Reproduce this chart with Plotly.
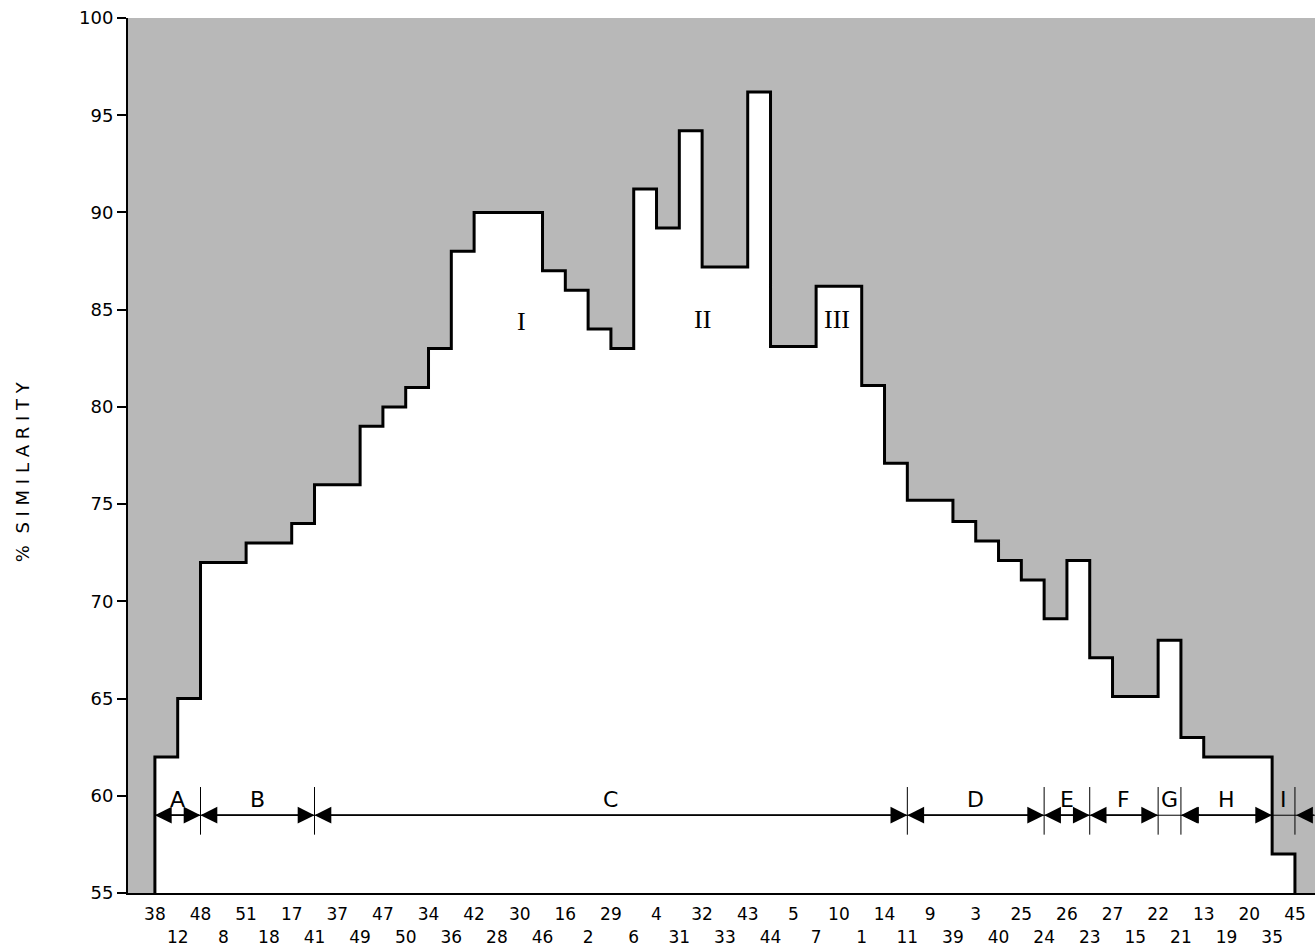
import plotly.graph_objects as go

# Sample order along the x axis (51 samples)
samples = [38, 12, 48, 8, 51, 18, 17, 41, 37, 49, 47, 50, 34, 36, 42, 28, 30, 46, 16, 2,
           29, 6, 4, 31, 32, 33, 43, 44, 5, 7, 10, 1, 14, 11, 9, 39, 3, 40, 25, 24,
           26, 23, 27, 15, 22, 21, 13, 19, 20, 35, 45]

# % similarity between adjacent samples (50 values)
similarity = [62, 65, 72, 72, 73, 73, 74, 76, 76, 79, 80, 81, 83, 88, 90, 90, 90, 87, 86, 84,
              83, 91.2, 89.2, 94.2, 87.2, 87.2, 96.2, 83.1, 83.1, 86.2, 86.2, 81.1, 77.1, 75.2, 75.2, 74.1,
              73.1, 72.1, 71.1, 69.1, 72.1, 67.1, 65.1, 65.1, 68, 63, 62, 62, 62, 57]

# Groups: labels and boundary indices in the sample order
group_names = ["A", "B", "C", "D", "E", "F", "G", "H", "I"]
group_bounds = [0, 2, 7, 33, 39, 41, 44, 45, 49, 50]

# Clusters I, II, III (label, centre position, level)
cluster_names = ["I", "II", "III"]
cluster_x = [16.1, 24.0, 29.9]
cluster_y = [84.4, 84.5, 84.5]

BASE = 55
n = len(samples)
xs = list(range(n))
step_x = [0] + xs
step_y = [BASE] + similarity + [BASE]

fig = go.Figure()
fig.add_trace(go.Scatter(
    x=step_x, y=step_y, mode="lines", line=dict(shape="hv", color="black", width=3),
    fill="tozeroy", fillcolor="white", hoverinfo="skip", showlegend=False))

ticktext = [str(s) if i % 2 == 0 else " <br>" + str(s) for i, s in enumerate(samples)]

GY = 59.0
shapes = []
anns = []
shapes.append(dict(type="line", xref="x", yref="y", x0=group_bounds[0], x1=50.9, y0=GY, y1=GY,
                   line=dict(color="black", width=1)))
for b in group_bounds[1:]:
    shapes.append(dict(type="line", xref="x", yref="y", x0=b, x1=b, y0=58.0, y1=60.45,
                       line=dict(color="black", width=1)))
arrow_style = dict(text="", showarrow=True, arrowhead=2, arrowsize=2.8, arrowwidth=1.2,
                   arrowcolor="black", standoff=0, startstandoff=0,
                   xref="x", yref="y", axref="x", ayref="y")
for gi, name in enumerate(group_names):
    a, b = group_bounds[gi], group_bounds[gi + 1]
    c = (a + b) / 2
    anns.append(dict(x=c, y=59.8, xref="x", yref="y", text=name, showarrow=False,
                     font=dict(family="DejaVu Sans", size=22, color="black")))
    if b - a > 1:
        anns.append(dict(x=a, y=GY, ax=b, ay=GY, **arrow_style))
        anns.append(dict(x=b, y=GY, ax=a, ay=GY, **arrow_style))
    else:
        anns.append(dict(x=b + 0.05, y=GY, ax=b + 0.9, ay=GY, **arrow_style))

for name, cx, cy in zip(cluster_names, cluster_x, cluster_y):
    anns.append(dict(x=cx, y=cy, xref="x", yref="y", text=name, showarrow=False,
                     font=dict(family="Liberation Serif", size=26, color="black")))

anns.append(dict(xref="paper", yref="paper", x=-0.0893, y=0.481, xanchor="center", yanchor="middle",
                 textangle=-90, text="%  S I M I L A R I T Y", showarrow=False,
                 font=dict(family="DejaVu Sans", size=18, color="black")))

fig.update_layout(
    width=1315, height=946,
    margin=dict(l=128, r=0, t=18, b=53),
    paper_bgcolor="white", plot_bgcolor="#b8b8b8",
    shapes=shapes, annotations=anns,
    xaxis=dict(range=[-1.18, 50.88], tickvals=xs, ticktext=ticktext, showgrid=False, zeroline=False,
               showline=True, linecolor="black", linewidth=2, ticks="", tickangle=0,
               ticklabeloverflow="allow", automargin=False, ticklabelstandoff=5,
               tickfont=dict(family="DejaVu Sans", size=17, color="black")),
    yaxis=dict(range=[55, 100], tickvals=list(range(55, 101, 5)), showgrid=False, zeroline=False,
               showline=True, linecolor="black", linewidth=2, ticks="outside", ticklen=9, tickwidth=2,
               ticklabeloverflow="allow", automargin=False,
               tickcolor="black", tickfont=dict(family="DejaVu Sans", size=18, color="black")),
)

# remove the default 8px page margin so the figure fills the window exactly
fig.write_html("out.html", config={"displayModeBar": False},
               post_script="document.body.style.margin='0px';")
